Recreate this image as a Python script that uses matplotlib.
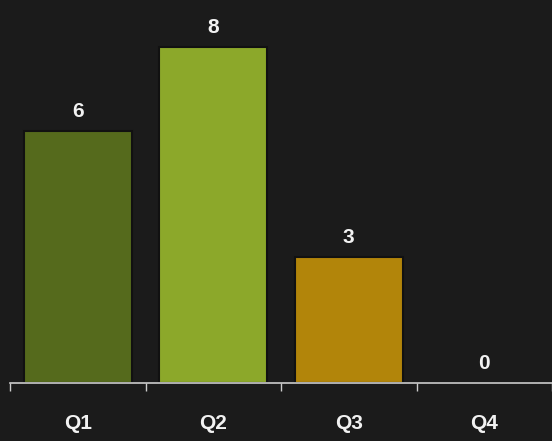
import matplotlib
matplotlib.use("Agg")
from matplotlib import pyplot as plt
import numpy as np

quarters = ['Q1', 'Q2', 'Q3', 'Q4']
counts = [6, 8, 3, 0]
bar_colors = ['#556a1c', '#8ca82a', '#b2850a', '#6a6a6a']

bg = '#1b1b1b'
plt.rcParams['font.family'] = ['Liberation Sans', 'DejaVu Sans']

fig = plt.figure(figsize=(5.52, 4.41), dpi=100, facecolor=bg)
ax = fig.add_axes([10/552, 58/441, 1 - 10/552, 1 - 58/441], facecolor=bg)

x = np.arange(len(quarters))
bars = ax.bar(x, counts, width=0.8, color=bar_colors, edgecolor='#111111', linewidth=1.5)

for xi, v in zip(x, counts):
    ax.annotate(str(v), (xi, v), xytext=(0, 7), textcoords='offset points',
                ha='center', va='bottom', color='#f2f2f2', fontsize=15, fontweight='bold')

ax.set_xlim(-0.5, 3.5)
ax.set_ylim(0, 9.12)

# ticks sit on the category boundaries, labels at the centres
ax.set_xticks(np.arange(-0.5, 4, 1))
ax.set_xticklabels([])
ax.set_xticks(x, minor=True)
ax.set_xticklabels(quarters, minor=True)
ax.tick_params(axis='x', which='major', length=6, width=1, color='#cccccc', direction='out')
ax.tick_params(axis='x', which='minor', length=0, pad=22, labelcolor='#f2f2f2', labelsize=15)
for lbl in ax.get_xticklabels(minor=True):
    lbl.set_fontweight('bold')

ax.set_yticks([])
for side in ['top', 'right', 'left']:
    ax.spines[side].set_visible(False)
ax.spines['bottom'].set_color('#cccccc')
ax.spines['bottom'].set_linewidth(1.2)

plt.savefig('out.png', dpi=100, facecolor=bg)
